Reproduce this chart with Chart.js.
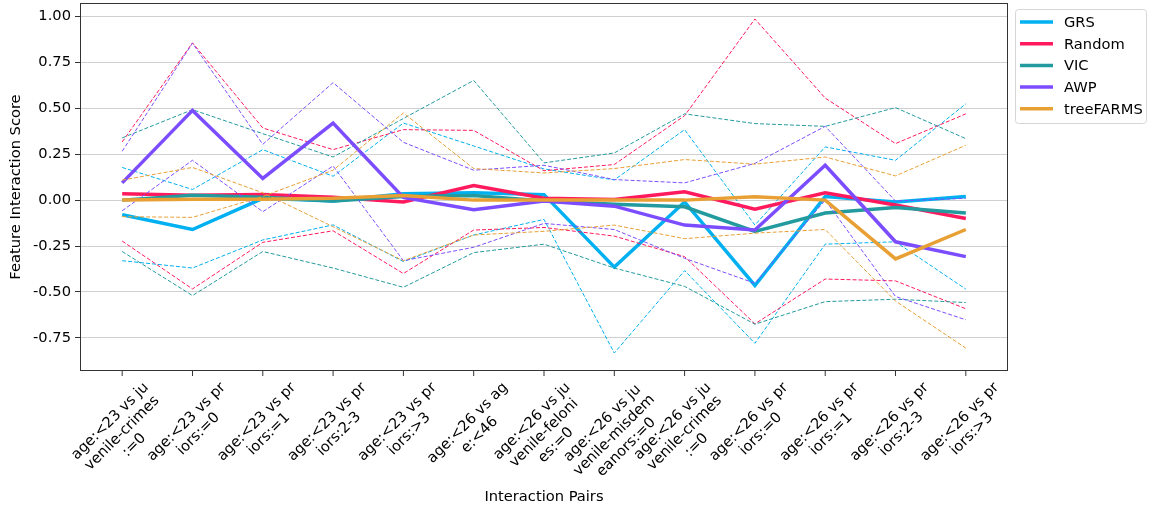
<!DOCTYPE html>
<html>
<head>
<meta charset="utf-8">
<script src="https://cdn.jsdelivr.net/npm/chart.js@4.4.0/dist/chart.umd.min.js"></script>
<style>body{margin:0;background:#fff;}</style>
</head>
<body>
<canvas id="chart" width="1151" height="510"></canvas>
<script>
var pairLabels = [
    ['age:<23 vs ju', 'venile-crimes', ':=0'],
    ['age:<23 vs pr', 'iors:=0'],
    ['age:<23 vs pr', 'iors:=1'],
    ['age:<23 vs pr', 'iors:2-3'],
    ['age:<23 vs pr', 'iors:>3'],
    ['age:<26 vs ag', 'e:<46'],
    ['age:<26 vs ju', 'venile-feloni', 'es:=0'],
    ['age:<26 vs ju', 'venile-misdem', 'eanors:=0'],
    ['age:<26 vs ju', 'venile-crimes', ':=0'],
    ['age:<26 vs pr', 'iors:=0'],
    ['age:<26 vs pr', 'iors:=1'],
    ['age:<26 vs pr', 'iors:2-3'],
    ['age:<26 vs pr', 'iors:>3']
];
var yTicks = [-0.75, -0.5, -0.25, 0, 0.25, 0.5, 0.75, 1.0];

var methods = ['GRS', 'Random', 'VIC', 'AWP', 'treeFARMS'];

var grsMean  = [-0.08, -0.16, 0.01, -0.005, 0.035, 0.04, 0.03, -0.365, -0.01, -0.465, 0.02, -0.01, 0.02];
var grsUpper = [0.178, 0.058, 0.275, 0.13, 0.42, 0.295, 0.17, 0.11, 0.384, -0.136, 0.29, 0.217, 0.525];
var grsLower = [-0.33, -0.37, -0.217, -0.135, -0.335, -0.19, -0.105, -0.833, -0.384, -0.78, -0.24, -0.227, -0.485];

var randomMean  = [0.035, 0.027, 0.03, 0.015, -0.01, 0.08, 0.01, 0.004, 0.045, -0.05, 0.04, -0.027, -0.1];
var randomUpper = [0.317, 0.857, 0.393, 0.275, 0.384, 0.38, 0.16, 0.194, 0.46, 0.987, 0.556, 0.308, 0.47];
var randomLower = [-0.223, -0.484, -0.23, -0.167, -0.40, -0.163, -0.149, -0.196, -0.308, -0.674, -0.43, -0.44, -0.592];

var vicMean  = [0.0, 0.027, 0.015, -0.005, 0.02, 0.025, -0.005, -0.023, -0.036, -0.17, -0.07, -0.04, -0.07];
var vicUpper = [0.339, 0.493, 0.362, 0.235, 0.445, 0.652, 0.203, 0.257, 0.47, 0.417, 0.402, 0.504, 0.335];
var vicLower = [-0.28, -0.52, -0.28, -0.37, -0.475, -0.286, -0.24, -0.37, -0.47, -0.676, -0.553, -0.54, -0.558];

var awpMean  = [0.094, 0.489, 0.118, 0.42, 0.015, -0.052, -0.005, -0.033, -0.136, -0.163, 0.19, -0.227, -0.308];
var awpUpper = [0.266, 0.855, 0.304, 0.64, 0.315, 0.163, 0.19, 0.112, 0.094, 0.2, 0.402, -0.005, 0.01];
var awpLower = [-0.058, 0.217, -0.063, 0.186, -0.33, -0.257, -0.127, -0.16, -0.317, -0.453, 0.0, -0.525, -0.652];

var treeMean  = [0.0, 0.005, 0.005, 0.01, 0.025, 0.0, 0.0, 0.0, 0.0, 0.018, 0.0, -0.32, -0.16];
var treeUpper = [-0.09, -0.094, 0.02, 0.163, 0.475, 0.172, 0.148, 0.172, 0.221, 0.196, 0.235, 0.132, 0.299];
var treeLower = [0.109, 0.178, 0.04, -0.145, -0.33, -0.19, -0.17, -0.136, -0.21, -0.18, -0.16, -0.55, -0.806];

var colors = ['#00b0f0', '#ff1a5e', '#239a9e', '#7c4dff', '#e8a035'];
var series = [
    [grsMean, grsUpper, grsLower],
    [randomMean, randomUpper, randomLower],
    [vicMean, vicUpper, vicLower],
    [awpMean, awpUpper, awpLower],
    [treeMean, treeUpper, treeLower]
];

var FONT = '"DejaVu Sans", "Liberation Sans", sans-serif';

function toPoints(arr){
    return arr.map(function(v, i){ return {x: i, y: v}; });
}

var datasets = [];
var order = 100;
methods.forEach(function(name, k){
    var s = series[k];
    datasets.push({label: name, data: toPoints(s[0]), borderColor: colors[k], borderWidth: 3.5, pointRadius: 0, order: order--});
    datasets.push({label: name + ' upper', data: toPoints(s[1]), borderColor: colors[k], borderWidth: 1, borderDash: [4, 2], pointRadius: 0, order: order--});
    datasets.push({label: name + ' lower', data: toPoints(s[2]), borderColor: colors[k], borderWidth: 1, borderDash: [4, 2], pointRadius: 0, order: order--});
});

// frame, x tick labels, axis titles and legend drawn by hand (matplotlib look)
var extras = {
    id: 'extras',
    afterDraw: function(chart){
        var ctx = chart.ctx;
        var a = chart.chartArea;
        var xs = chart.scales.x;
        ctx.save();
        // spines
        ctx.strokeStyle = '#333';
        ctx.lineWidth = 1;
        ctx.strokeRect(a.left + 0.5, a.top + 0.5, a.right - a.left - 1, a.bottom - a.top - 1);

        // x ticks + rotated labels, centred under the tick like matplotlib
        ctx.fillStyle = '#000';
        ctx.font = '14.67px ' + FONT;
        var step = 16.9, asc = 11.2, desc = 3.5;
        pairLabels.forEach(function(lines, i){
            var tx = xs.getPixelForValue(i);
            ctx.beginPath();
            ctx.moveTo(tx, a.bottom);
            ctx.lineTo(tx, a.bottom + 5);
            ctx.stroke();
            var w = 0;
            lines.forEach(function(l){ w = Math.max(w, ctx.measureText(l).width); });
            var h = (lines.length - 1) * step + asc + desc;
            var ext = (w + h) / Math.SQRT2;
            var cy = a.bottom + 9 + ext / 2;
            ctx.save();
            ctx.translate(tx, cy);
            ctx.rotate(-Math.PI / 4);
            ctx.textAlign = 'center';
            ctx.textBaseline = 'alphabetic';
            lines.forEach(function(l, j){
                ctx.fillText(l, 0, -h / 2 + asc + j * step);
            });
            ctx.restore();
        });

        // axis titles
        ctx.font = '14.67px ' + FONT;
        ctx.textAlign = 'center';
        ctx.textBaseline = 'middle';
        ctx.fillText('Interaction Pairs', (a.left + a.right) / 2, 497);
        ctx.save();
        ctx.translate(16, (a.top + a.bottom) / 2);
        ctx.rotate(-Math.PI / 2);
        ctx.fillText('Feature Interaction Score', 0, 0);
        ctx.restore();

        // legend
        var lx = 1015.5, ly = 9.5, lw = 131, lh = 114;
        ctx.beginPath();
        if (ctx.roundRect) ctx.roundRect(lx, ly, lw, lh, 3); else ctx.rect(lx, ly, lw, lh);
        ctx.fillStyle = 'rgba(255,255,255,0.8)';
        ctx.fill();
        ctx.strokeStyle = '#d6d6d6';
        ctx.lineWidth = 1;
        ctx.stroke();
        ctx.textAlign = 'left';
        methods.forEach(function(name, k){
            var yy = 22 + k * 21.7;
            ctx.strokeStyle = colors[k];
            ctx.lineWidth = 3.5;
            ctx.beginPath();
            ctx.moveTo(1020, yy);
            ctx.lineTo(1053, yy);
            ctx.stroke();
            ctx.fillStyle = '#000';
            ctx.fillText(name, 1064, yy + 1);
        });
        ctx.restore();
    }
};

var chart = new Chart(document.getElementById('chart'), {
    type: 'line',
    data: {datasets: datasets},
    options: {
        responsive: false,
        animation: false,
        devicePixelRatio: 1,
        layout: {padding: {left: 0, top: 3, right: 143, bottom: 139}},
        plugins: {legend: {display: false}, tooltip: {enabled: false}},
        elements: {line: {tension: 0, fill: false}},
        scales: {
            x: {
                type: 'linear',
                min: -0.6,
                max: 12.6,
                display: false
            },
            y: {
                type: 'linear',
                min: -0.931,
                max: 1.074,
                afterBuildTicks: function(scale){
                    scale.ticks = yTicks.map(function(v){ return {value: v}; });
                },
                afterFit: function(scale){
                    scale.width = 80;
                    scale.paddingTop = 0;
                    scale.paddingBottom = 0;
                },
                border: {display: false},
                grid: {color: '#d0d0d0', lineWidth: 1, tickColor: '#333', tickLength: 5, tickWidth: 1},
                ticks: {
                    padding: 4,
                    color: '#000',
                    font: {family: FONT, size: 14.67},
                    callback: function(v){ return Number(v).toFixed(2); }
                }
            }
        }
    },
    plugins: [extras]
});
</script>
</body>
</html>
